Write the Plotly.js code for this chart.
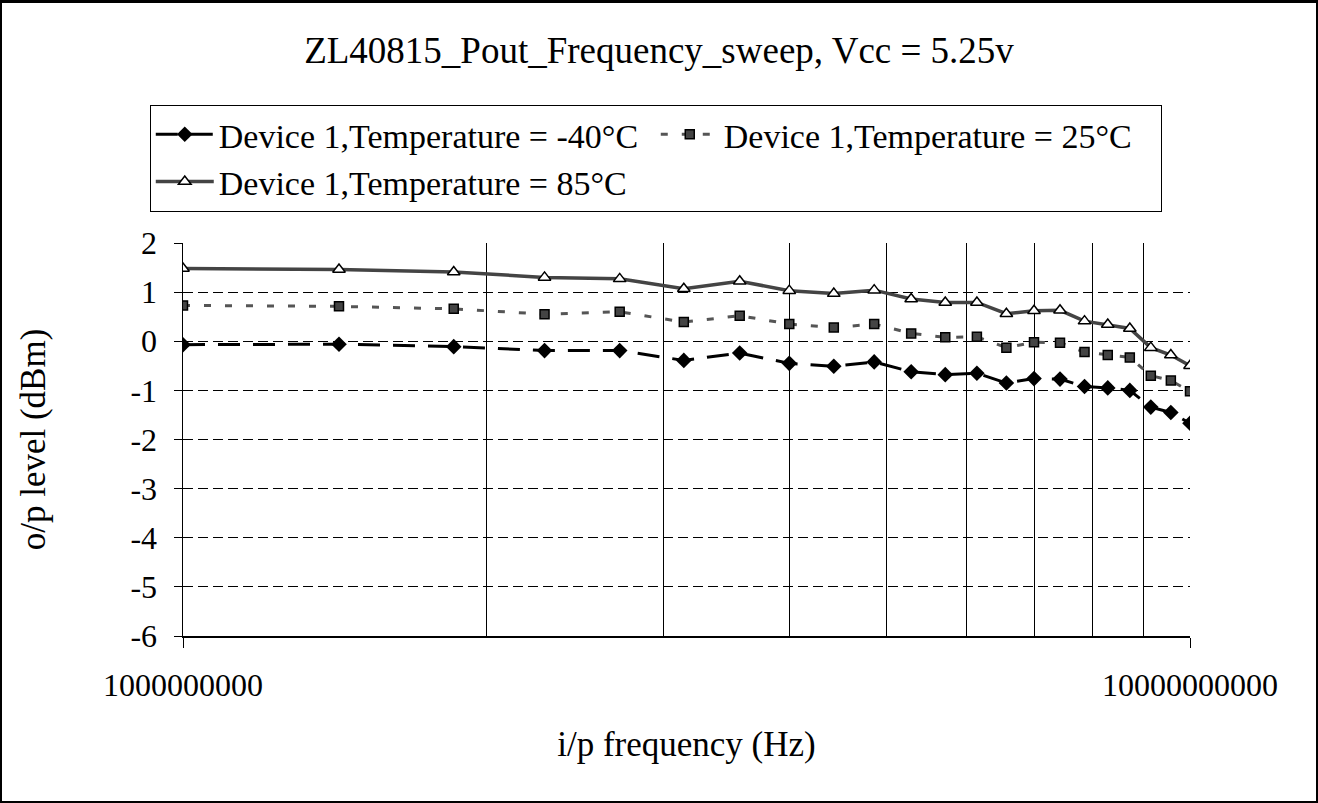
<!DOCTYPE html>
<html><head><meta charset="utf-8">
<script src="https://cdn.plot.ly/plotly-3.0.1.min.js"></script>
<style>
html,body{margin:0;padding:0;background:#fff}
#wrap{position:relative;width:1318px;height:803px}
#chart{width:1318px;height:803px}
#frame{position:absolute;left:0;top:0;width:1318px;height:803px;box-sizing:border-box;border:2px solid #000;border-top-width:3px;border-right-width:2px;pointer-events:none}
</style>
</head><body>
<div id="wrap"><div id="chart"></div><div id="frame"></div></div>
<script>
// Input frequency (Hz)
const frequencies = [1000000000, 1428571429, 1857142857, 2285714286, 2714285714, 3142857143, 3571428571,
  4000000000, 4428571429, 4857142857, 5285714286, 5714285714, 6142857143, 6571428571, 7000000000,
  7428571429, 7857142857, 8285714286, 8714285714, 9142857143, 9571428571, 10000000000];
// Output level (dBm)
const levelMinus40 = [-0.07, -0.06, -0.11, -0.19, -0.19, -0.39, -0.24, -0.45, -0.51, -0.42, -0.62,
  -0.68, -0.65, -0.85, -0.76, -0.77, -0.92, -0.95, -1.00, -1.34, -1.45, -1.67];
const level25 = [0.73, 0.71, 0.66, 0.55, 0.60, 0.39, 0.52, 0.35, 0.28, 0.35, 0.16,
  0.08, 0.09, -0.13, -0.02, -0.03, -0.22, -0.28, -0.33, -0.70, -0.80, -1.02];
const level85 = [1.48, 1.46, 1.41, 1.30, 1.27, 1.07, 1.22, 1.03, 0.97, 1.04, 0.86,
  0.79, 0.79, 0.56, 0.62, 0.63, 0.41, 0.34, 0.26, -0.13, -0.28, -0.50];
const seriesNames = ['Device 1,Temperature = -40°C', 'Device 1,Temperature = 25°C', 'Device 1,Temperature = 85°C'];
const xTickVals = [1000000000, 10000000000];
const xTickText = ['1000000000', '10000000000'];
const xMinorGrid = [2000000000, 3000000000, 4000000000, 5000000000, 6000000000, 7000000000, 8000000000, 9000000000];
const yTickVals = [-6, -5, -4, -3, -2, -1, 0, 1, 2];
const yTickText = ['-6', '-5', '-4', '-3', '-2', '-1', '0', '1', '2'];

const FONT = '"Liberation Serif", "Times New Roman", serif';

const traces = [
  {x: frequencies, y: levelMinus40, name: seriesNames[0], type: 'scatter', mode: 'lines+markers',
   line: {color: '#000', width: 3, dash: '22px,13px'},
   marker: {symbol: 'diamond', size: 12, color: '#000', line: {color: '#000', width: 0}}},
  {x: frequencies, y: level25, name: seriesNames[1], type: 'scatter', mode: 'lines+markers',
   line: {color: '#555', width: 3, dash: '7px,14px'},
   marker: {symbol: 'square', size: 9, color: '#444', line: {color: '#000', width: 1.5}}},
  {x: frequencies, y: level85, name: seriesNames[2], type: 'scatter', mode: 'lines+markers',
   line: {color: '#444', width: 3.5, dash: 'solid'},
   marker: {symbol: 'triangle-up', size: 11, color: '#fff', line: {color: '#000', width: 1.5}}}
];

const layout = {
  width: 1318, height: 803,
  margin: {l: 183, r: 128, t: 243, b: 167, pad: 0},
  paper_bgcolor: '#fff', plot_bgcolor: '#fff',
  font: {family: FONT, color: '#000', size: 32},
  showlegend: true,
  title: {text: 'ZL40815_Pout_Frequency_sweep, Vcc = 5.25v', font: {family: FONT, size: 37, color: '#000'},
          xref: 'container', x: 0.5, xanchor: 'center', yref: 'container', y: 1 - 50/803, yanchor: 'middle'},
  legend: {orientation: 'h', xref: 'paper', x: -0.033, xanchor: 'left', yref: 'paper', y: 1.352, yanchor: 'top',
           bgcolor: '#fff', bordercolor: '#000', borderwidth: 1, font: {family: FONT, size: 34, color: '#000'},
           itemwidth: 58, entrywidth: 432, tracegroupgap: 0, traceorder: 'normal', valign: 'middle'},
  xaxis: {type: 'log', range: [9, 10], tickmode: 'array', tickvals: xTickVals, ticktext: xTickText,
          showgrid: true, gridcolor: '#000', gridwidth: 1, griddash: '10px,5px',
          minor: {tickmode: 'array', tickvals: xMinorGrid, showgrid: true, gridcolor: '#000', gridwidth: 1, griddash: 'solid', ticks: ''},
          showline: true, linecolor: '#000', linewidth: 1.5, ticks: 'outside', ticklen: 10, tickcolor: '#000', tickwidth: 1,
          ticklabelstandoff: 10, zeroline: false, automargin: false,
          tickfont: {family: FONT, size: 32, color: '#000'},
          title: {text: 'i/p frequency (Hz)', font: {family: FONT, size: 35, color: '#000'}, standoff: 29}},
  yaxis: {range: [-6, 2], tickmode: 'array', tickvals: yTickVals, ticktext: yTickText,
          showgrid: true, gridcolor: '#000', gridwidth: 1, griddash: '10px,5px',
          showline: true, linecolor: '#000', linewidth: 1.5, ticks: 'outside', ticklen: 8, tickcolor: '#000', tickwidth: 1,
          ticklabelstandoff: 10, zeroline: false, automargin: false,
          tickfont: {family: FONT, size: 32, color: '#000'},
          title: {text: 'o/p level (dBm)', font: {family: FONT, size: 35, color: '#000'}, standoff: 74}}
};

Plotly.newPlot('chart', traces, layout, {displayModeBar: false, staticPlot: true});
</script>
</body></html>
